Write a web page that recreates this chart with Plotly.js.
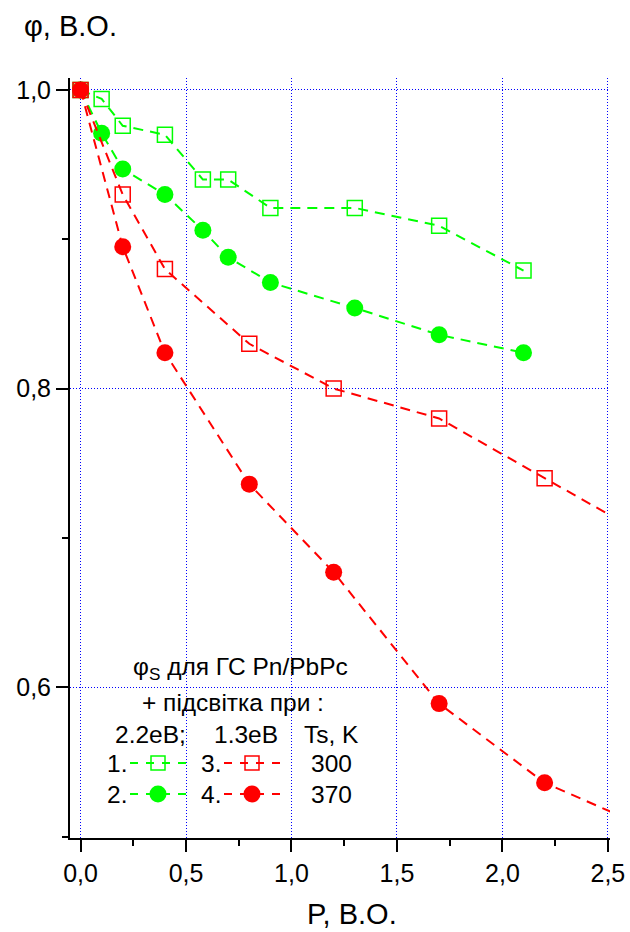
<!DOCTYPE html>
<html>
<head>
<meta charset="utf-8">
<script src="https://cdn.plot.ly/plotly-3.0.1.min.js"></script>
<style>
  html, body { margin: 0; padding: 0; background: #fff; }
  #chart { width: 630px; height: 932px; }
</style>
</head>
<body>
<div id="chart"></div>
<script>
// ---- data ----
const xGreen = [0, 0.1, 0.2, 0.4, 0.58, 0.7, 0.9, 1.3, 1.7, 2.1];
const ySeries1 = [1.0, 0.994, 0.976, 0.970, 0.940, 0.940, 0.921, 0.921, 0.909, 0.879]; // 2.2 eV, 300 K
const ySeries2 = [1.0, 0.971, 0.947, 0.930, 0.906, 0.888, 0.871, 0.854, 0.836, 0.824]; // 2.2 eV, 370 K
const xRed = [0, 0.2, 0.4, 0.8, 1.2, 1.7, 2.2, 2.7];
const ySeries3 = [1.0, 0.930, 0.880, 0.830, 0.800, 0.780, 0.740, 0.700]; // 1.3 eV, 300 K
const ySeries4 = [1.0, 0.895, 0.824, 0.736, 0.677, 0.589, 0.536, 0.505]; // 1.3 eV, 370 K

const xTickVals = [0, 0.5, 1.0, 1.5, 2.0, 2.5];
const yTickVals = [0.6, 0.8, 1.0];

const GREEN = '#00ff00';
const RED = '#ff0000';
const FONT = 'Liberation Sans, Arial, Helvetica, sans-serif';

// ---- layout geometry ----
const W = 630, H = 932;
const M = {l: 70, r: 20, t: 78, b: 94};
const PW = W - M.l - M.r, PH = H - M.t - M.b;
const px = x => (x - M.l) / PW;       // pixel -> paper x
const py = y => (H - M.b - y) / PH;   // pixel -> paper y

const lineStyle = (c) => ({color: c, width: 2, dash: '10px,7px'});

const traces = [
  {x: xGreen, y: ySeries1, mode: 'lines+markers', line: lineStyle(GREEN),
   marker: {symbol: 'square-open', size: 15, color: GREEN, line: {width: 1.5, color: GREEN}}},
  {x: xGreen, y: ySeries2, mode: 'lines+markers', line: lineStyle(GREEN),
   marker: {symbol: 'circle', size: 17, color: GREEN}},
  {x: xRed, y: ySeries3, mode: 'lines+markers', line: lineStyle(RED),
   marker: {symbol: 'square-open', size: 15, color: RED, line: {width: 1.5, color: RED}}},
  {x: xRed, y: ySeries4, mode: 'lines+markers', line: lineStyle(RED),
   marker: {symbol: 'circle', size: 17, color: RED}}
];

// ---- custom legend (Origin-style text block) ----
const LF = {family: FONT, size: 24.5, color: '#000'};
const ann = (text, x, y, xanchor, size) => ({
  text, xref: 'paper', yref: 'paper', x: px(x), y: py(y),
  xanchor: xanchor || 'center', yanchor: 'middle', showarrow: false,
  font: Object.assign({}, LF, size ? {size} : {})
});

const annotations = [
  // axis titles
  ann('φ, В.О.', 22, 26, 'left', 29),
  ann('P, В.О.', 352, 914, 'center', 29),
  // legend text
  ann('φ<sub>S</sub> для ГС Pn/PbPc', 240, 668),
  ann('+ підсвітка при :', 233, 702),
  ann('2.2еВ;', 150, 734),
  ann('1.3еВ', 246, 734),
  ann('Ts, K', 331, 734),
  ann('1.', 129, 763, 'right'),
  ann('3.', 223, 763, 'right'),
  ann('300', 331, 763),
  ann('2.', 129, 794, 'right'),
  ann('4.', 223, 794, 'right'),
  ann('370', 331, 794)
];

const shapes = [
  // white legend background hiding grid lines
  {type: 'rect', xref: 'paper', yref: 'paper', layer: 'between',
   x0: px(82), x1: px(386), y0: py(822), y1: py(633),
   fillcolor: '#ffffff', line: {width: 0}}
];
function sampleLine(x0, x1, y, c) {
  shapes.push({type: 'line', xref: 'paper', yref: 'paper', x0: px(x0), x1: px(x1), y0: py(y), y1: py(y),
               line: {color: c, width: 2, dash: '8px,8px'}});
}
function sampleSquare(cx, cy, c) {
  shapes.push({type: 'rect', xref: 'paper', yref: 'paper', x0: px(cx - 7), x1: px(cx + 7), y0: py(cy + 7), y1: py(cy - 7),
               fillcolor: 'rgba(255,255,255,0)', line: {color: c, width: 1.5}});
}
function sampleCircle(cx, cy, c) {
  shapes.push({type: 'circle', xref: 'paper', yref: 'paper', x0: px(cx - 8.5), x1: px(cx + 8.5), y0: py(cy + 8.5), y1: py(cy - 8.5),
               fillcolor: c, line: {color: c, width: 0}});
}
sampleLine(130, 192, 763, GREEN); sampleSquare(158, 763, GREEN);
sampleLine(224, 286, 763, RED);   sampleSquare(252, 763, RED);
sampleLine(130, 192, 794, GREEN); sampleCircle(158, 794, GREEN);
sampleLine(224, 286, 794, RED);   sampleCircle(252, 794, RED);

const axisCommon = {
  showline: true, linecolor: '#000', linewidth: 2,
  ticks: 'outside', ticklen: 12, tickwidth: 2, tickcolor: '#000',
  showgrid: true, gridcolor: '#0000ff', gridwidth: 1, griddash: '1px,2px',
  zeroline: false, mirror: false,
  tickfont: {family: FONT, size: 25, color: '#000'},
  tickformat: '.1f'
};

const layout = {
  width: W, height: H,
  margin: M,
  paper_bgcolor: '#fff', plot_bgcolor: '#fff',
  showlegend: false,
  separators: ', ',
  font: {family: FONT, color: '#000'},
  xaxis: Object.assign({}, axisCommon, {
    range: [-0.05, 2.51], tickvals: xTickVals,
    minor: {dtick: 0.25, tick0: 0, ticklen: 6, tickwidth: 2, tickcolor: '#000', ticks: 'outside', showgrid: false}
  }),
  yaxis: Object.assign({}, axisCommon, {
    range: [0.499, 1.008], tickvals: yTickVals,
    minor: {dtick: 0.1, tick0: 0, ticklen: 6, tickwidth: 2, tickcolor: '#000', ticks: 'outside', showgrid: false}
  }),
  annotations, shapes
};

Plotly.newPlot('chart', traces, layout, {staticPlot: true});
</script>
</body>
</html>
